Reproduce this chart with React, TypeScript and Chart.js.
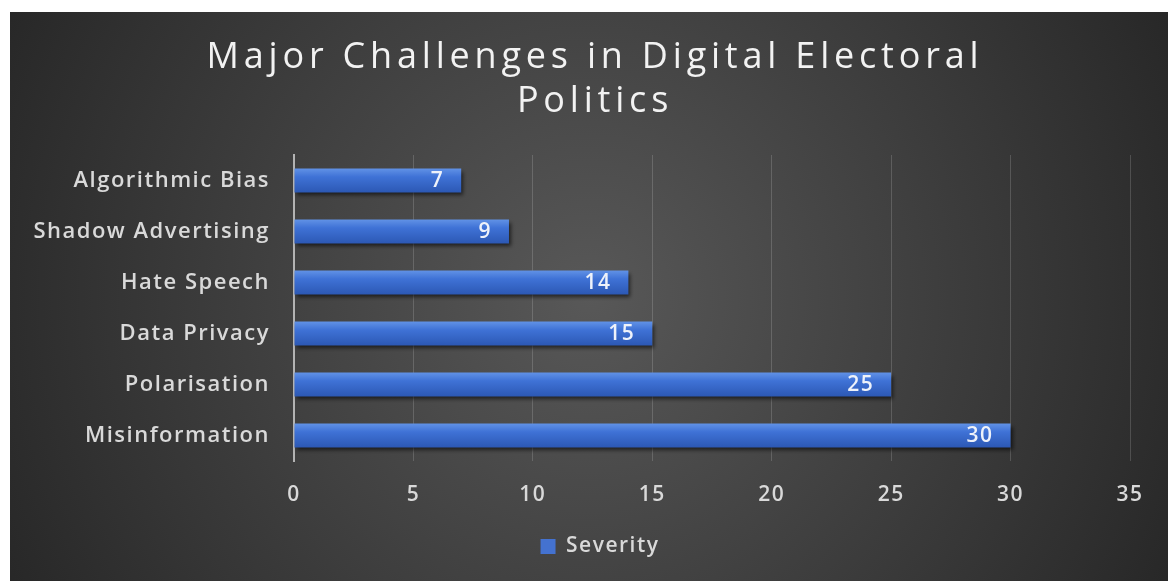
import { useEffect, useRef } from "react"
import { Chart, registerables, type ChartConfiguration, type Plugin } from "chart.js"

Chart.register(...registerables)

const categories = [
  "Algorithmic Bias",
  "Shadow Advertising",
  "Hate Speech",
  "Data Privacy",
  "Polarisation",
  "Misinformation",
]
const severity = [7, 9, 14, 15, 25, 30]
const titleLines = ["Major Challenges in Digital Electoral", "Politics"]
const seriesName = "Severity"

const FONT = "'Open Sans', 'Noto Sans', sans-serif"
const BAR_PCT = 0.47

// the reference font is wide and a bit spaced out, so canvas text gets some tracking
const setSpacing = (chart: Chart) => {
  ;(chart.ctx as any).letterSpacing = "1.5px"
}

// dark radial background + spaced title text
const backdrop: Plugin<"bar"> = {
  id: "backdrop",
  beforeUpdate(chart) {
    setSpacing(chart)
  },
  afterLayout(chart) {
    // legend in the reference sits a bit right of the canvas centre
    const lg: any = (chart as any).legend
    if (lg) {
      lg.left += 30
      lg.right += 30
    }
  },
  beforeDraw(chart) {
    setSpacing(chart)
    const { ctx, width, height } = chart
    const g = ctx.createRadialGradient(width / 2, height / 2, 0, width / 2, height / 2, width * 0.6)
    g.addColorStop(0, "#585858")
    g.addColorStop(1, "#242424")
    ctx.save()
    ctx.fillStyle = g
    ctx.fillRect(0, 0, width, height)
    ctx.restore()
  },
  afterDraw(chart) {
    const { ctx, width } = chart
    ctx.save()
    ctx.fillStyle = "#f2f2f2"
    ctx.font = `36px ${FONT}`
    ctx.textAlign = "center"
    ctx.textBaseline = "middle"
    ;(ctx as any).letterSpacing = "4.8px"
    titleLines.forEach((line, i) => ctx.fillText(line, width / 2 + 6, 46 + i * 44))
    ctx.restore()
  },
}

// drop shadow under bars, value labels at the inner end
const barStyle: Plugin<"bar"> = {
  id: "barStyle",
  beforeDatasetsDraw(chart) {
    const { ctx } = chart
    ctx.save()
    ctx.shadowColor = "rgba(0, 0, 0, 0.6)"
    ctx.shadowBlur = 4
    ctx.shadowOffsetX = 2
    ctx.shadowOffsetY = 3
  },
  afterDatasetsDraw(chart) {
    const { ctx } = chart
    ctx.restore()
    const meta = chart.getDatasetMeta(0)
    ctx.save()
    ctx.fillStyle = "#eef2fa"
    ctx.font = `600 21px ${FONT}`
    ctx.textAlign = "right"
    ctx.textBaseline = "middle"
    meta.data.forEach((el: any, i) => {
      ctx.fillText(String(severity[i]), el.x - 17, el.y + 1)
    })
    ctx.restore()
  },
}

const barFill = (c: any) => {
  const chart = c.chart as Chart
  const y = chart.scales.y
  const area = chart.chartArea
  if (!y || !area || c.dataIndex === undefined) return "#3e6fd2"
  const thick = ((area.bottom - area.top) / categories.length) * BAR_PCT
  const mid = y.getPixelForValue(c.dataIndex)
  const g = chart.ctx.createLinearGradient(0, mid - thick / 2, 0, mid + thick / 2)
  g.addColorStop(0, "#6192e6")
  g.addColorStop(0.35, "#3f72d6")
  g.addColorStop(1, "#2c58b4")
  return g
}

export default function App() {
  const chartRef = useRef<HTMLCanvasElement>(null)
  const chartInstance = useRef<Chart | null>(null)

  useEffect(() => {
    document.body.style.margin = "0"
    document.body.style.overflow = "hidden"
    if (!chartRef.current) return
    const ctx = chartRef.current.getContext("2d")
    if (!ctx) return

    if (chartInstance.current) {
      chartInstance.current.destroy()
    }

    const config: ChartConfiguration<"bar"> = {
      type: "bar",
      data: {
        labels: categories,
        datasets: [
          {
            label: seriesName,
            data: severity,
            backgroundColor: barFill,
            borderWidth: 0,
            categoryPercentage: 1,
            barPercentage: BAR_PCT,
          },
        ],
      },
      options: {
        indexAxis: "y",
        responsive: true,
        maintainAspectRatio: false,
        animation: false,
        layout: { padding: { top: 143, right: 38, left: 0, bottom: 14 } },
        scales: {
          x: {
            min: 0,
            max: 35,
            ticks: {
              stepSize: 5,
              color: "#d9d9d9",
              font: { family: FONT, size: 21, weight: 600 },
              padding: 21,
            },
            grid: { color: "rgba(255, 255, 255, 0.16)", lineWidth: 1, drawTicks: false },
            border: { display: false },
            afterFit(scale) {
              scale.height = 65
            },
          },
          y: {
            ticks: {
              color: "#d9d9d9",
              font: { family: FONT, size: 22, weight: 600 },
              padding: 24,
            },
            grid: { display: false, drawTicks: false },
            border: { color: "#b3b3b3", width: 2 },
            afterFit(scale) {
              scale.width = 284
            },
          },
        },
        plugins: {
          legend: {
            position: "bottom",
            labels: {
              color: "#d9d9d9",
              font: { family: FONT, size: 21, weight: 600 },
              boxWidth: 15,
              boxHeight: 15,
              padding: 10,
              generateLabels: (chart) => [
                {
                  text: seriesName,
                  fillStyle: "#4472d0",
                  strokeStyle: "#4472d0",
                  lineWidth: 0,
                  fontColor: "#d9d9d9",
                  datasetIndex: 0,
                  hidden: !chart.isDatasetVisible(0),
                },
              ],
            },
          },
          title: { display: false },
          tooltip: { enabled: false },
        },
      },
      plugins: [backdrop, barStyle],
    }

    chartInstance.current = new Chart(ctx, config)

    return () => {
      if (chartInstance.current) {
        chartInstance.current.destroy()
      }
    }
  }, [])

  return (
    <div style={{ padding: "12px 0 0 10px" }}>
      <div style={{ position: "relative", width: 1158, height: 569 }}>
        <canvas ref={chartRef} />
      </div>
    </div>
  )
}
